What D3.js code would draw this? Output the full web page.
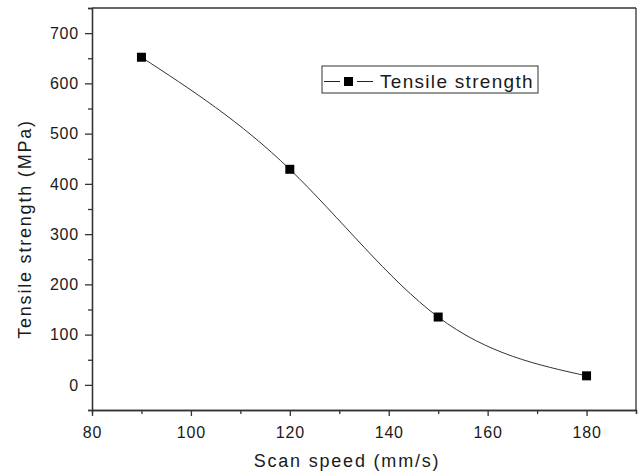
<html>
<head>
  <script src="https://d3js.org/d3.v7.min.js"></script>
  <style>
    body { margin: 0; background: #fff; }
    text { font-family: "Liberation Sans", Arial, sans-serif; fill: #1a1a1a; }
    .axis .domain, .axis line { stroke: #333; stroke-width: 1.3px; }
    .axis text { font-size: 16px; letter-spacing: 0.8px; }
    .title { font-size: 18px; letter-spacing: 1.8px; }
  </style>
</head>
<body>
<svg width="641" height="475"></svg>
<script>
var speed = [90, 120, 150, 180];
var strength = [652, 429, 135, 18];
var xTicks = [80, 100, 120, 140, 160, 180];
var yTicks = [0, 100, 200, 300, 400, 500, 600, 700];
var seriesName = "Tensile strength";

var svg = d3.select("svg"),
    margin = {top: 8, right: 5, bottom: 65, left: 92},
    width = 641 - margin.left - margin.right,
    height = 475 - margin.top - margin.bottom,
    g = svg.append("g").attr("transform", "translate(" + margin.left + "," + margin.top + ")");

var x = d3.scaleLinear().domain([80, 190]).range([0, width]);
var y = d3.scaleLinear().domain([-50, 750]).range([height, 0]);

var data = speed.map(function(s, i) { return {x: s, y: strength[i]}; });

// minor ticks first
g.append("g")
    .attr("class", "axis")
    .attr("transform", "translate(0," + height + ")")
    .call(d3.axisBottom(x).tickValues(d3.range(90, 191, 20)).tickSize(4).tickFormat(""));
g.append("g")
    .attr("class", "axis")
    .call(d3.axisLeft(y).tickValues(d3.range(-50, 751, 100)).tickSize(4).tickFormat(""));

g.append("g")
    .attr("class", "axis")
    .attr("transform", "translate(0," + height + ")")
    .call(d3.axisBottom(x).tickValues(xTicks).tickSize(6).tickPadding(11).tickSizeOuter(0));

g.append("g")
    .attr("class", "axis")
    .call(d3.axisLeft(y).tickValues(yTicks).tickSize(7).tickPadding(6).tickSizeOuter(0));

// top and right frame
g.append("line").attr("x1", 0).attr("x2", width).attr("y1", 0).attr("y2", 0)
    .attr("stroke", "#333").attr("stroke-width", 1.3);
g.append("line").attr("x1", width).attr("x2", width).attr("y1", 0).attr("y2", height)
    .attr("stroke", "#333").attr("stroke-width", 1.3);

svg.append("text")
    .attr("class", "title")
    .attr("text-anchor", "middle")
    .attr("x", 347)
    .attr("y", 467)
    .text("Scan speed (mm/s)");

svg.append("text")
    .attr("class", "title")
    .attr("text-anchor", "middle")
    .attr("transform", "translate(31,229) rotate(-90)")
    .text("Tensile strength (MPa)");

var line = d3.line()
    .x(function(d) { return x(d.x); })
    .y(function(d) { return y(d.y); })
    .curve(d3.curveNatural);

g.append("path")
    .datum(data)
    .attr("fill", "none")
    .attr("stroke", "#333")
    .attr("stroke-width", 1)
    .attr("d", line);

g.selectAll(".pt")
    .data(data)
    .enter().append("rect")
    .attr("x", function(d) { return x(d.x) - 4.5; })
    .attr("y", function(d) { return y(d.y) - 4.5; })
    .attr("width", 9)
    .attr("height", 9)
    .attr("fill", "#000");

// legend
var lg = svg.append("g").attr("transform", "translate(322,66)");
lg.append("rect").attr("width", 216).attr("height", 27)
    .attr("fill", "#fff").attr("stroke", "#333").attr("stroke-width", 1);
lg.append("line").attr("x1", 2).attr("x2", 18).attr("y1", 15.5).attr("y2", 15.5)
    .attr("stroke", "#222").attr("stroke-width", 1);
lg.append("line").attr("x1", 35).attr("x2", 51).attr("y1", 15.5).attr("y2", 15.5)
    .attr("stroke", "#222").attr("stroke-width", 1);
lg.append("rect").attr("x", 22).attr("y", 11).attr("width", 9).attr("height", 9).attr("fill", "#000");
lg.append("text").attr("x", 58).attr("y", 22)
    .style("font-size", "19px").style("letter-spacing", "1.3px")
    .text(seriesName);
</script>
</body>
</html>
